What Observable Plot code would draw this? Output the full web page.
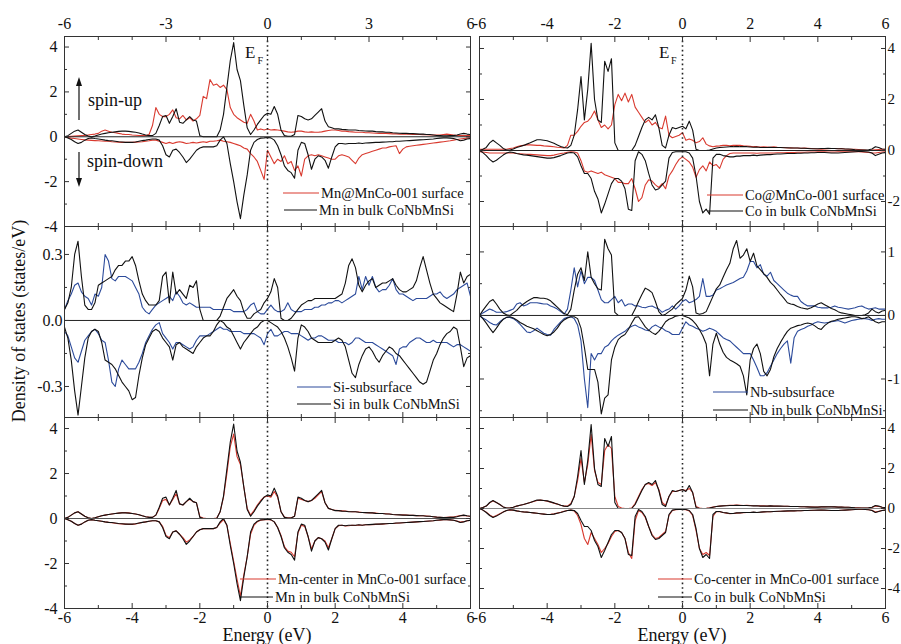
<!DOCTYPE html>
<html><head><meta charset="utf-8">
<script src="https://cdn.jsdelivr.net/npm/d3@7"></script>
<script src="https://cdn.jsdelivr.net/npm/@observablehq/plot@0.6"></script>
<style>
body{margin:0;background:#fff;}
#fig{position:relative;width:901px;height:644px;overflow:hidden;background:#fff;font-family:"Liberation Serif","Times New Roman",serif;color:#111;}
#fig svg, #fig svg text{font-family:"Liberation Serif","Times New Roman",serif !important;}
</style></head><body><div id="fig"></div>
<script>
// ---------- data (energy grid in eV, DOS in states/eV) ----------
const energy = [
-6,-5.9,-5.8,-5.7,-5.6,-5.5,-5.4,-5.3,-5.2,-5.1,
-5,-4.9,-4.8,-4.7,-4.6,-4.5,-4.4,-4.3,-4.2,-4.1,
-4,-3.9,-3.8,-3.7,-3.6,-3.5,-3.4,-3.3,-3.2,-3.1,
-3,-2.9,-2.8,-2.7,-2.6,-2.5,-2.4,-2.3,-2.2,-2.1,
-2,-1.9,-1.8,-1.7,-1.6,-1.5,-1.4,-1.3,-1.2,-1.1,
-1,-0.9,-0.8,-0.7,-0.6,-0.5,-0.4,-0.3,-0.2,-0.1,
0,0.1,0.2,0.3,0.4,0.5,0.6,0.7,0.8,0.9,
1,1.1,1.2,1.3,1.4,1.5,1.6,1.7,1.8,1.9,
2,2.1,2.2,2.3,2.4,2.5,2.6,2.7,2.8,2.9,
3,3.1,3.2,3.3,3.4,3.5,3.6,3.7,3.8,3.9,
4,4.1,4.2,4.3,4.4,4.5,4.6,4.7,4.8,4.9,
5,5.1,5.2,5.3,5.4,5.5,5.6,5.7,5.8,5.9,
6];

const mnBulkUp = [
0,0.05,0.15,0.25,0.3,0.2,0.1,0.03,0,0.03,
0.08,0.12,0.15,0.18,0.2,0.22,0.24,0.25,0.25,0.24,
0.22,0.2,0.17,0.12,0.08,0.05,0.05,0.15,0.5,0.9,
0.95,0.6,0.9,1.25,0.65,0.6,0.75,0.9,0.75,0.7,
0.05,0,0,0,0,0,0.3,1.0,2.2,3.4,
4.2,3.0,2.5,1.4,0.4,0.1,0.3,0.55,0.75,0.95,
1.05,1.0,1.35,1.0,0.3,0.05,0.02,0.02,0.1,0.95,
0.9,0.8,0.75,0.8,0.95,1.1,1.25,0.7,0.45,0.4,
0.35,0.35,0.33,0.32,0.3,0.3,0.3,0.28,0.27,0.26,
0.25,0.25,0.23,0.22,0.22,0.2,0.2,0.18,0.17,0.16,
0.15,0.15,0.14,0.14,0.13,0.12,0.12,0.1,0.1,0.08,
0.06,0.05,0.04,0.04,0.05,0.05,0.08,0.12,0.15,0.12,
0.1];
const mnBulkDn = [
0,-0.05,-0.12,-0.22,-0.3,-0.25,-0.15,-0.08,-0.05,-0.08,
-0.1,-0.12,-0.15,-0.17,-0.18,-0.2,-0.22,-0.23,-0.25,-0.25,
-0.25,-0.23,-0.2,-0.17,-0.15,-0.12,-0.1,-0.1,-0.15,-0.4,
-0.8,-0.9,-0.6,-0.55,-0.7,-0.9,-1.15,-1.0,-0.8,-0.6,
-0.5,-0.45,-0.45,-0.45,-0.45,-0.4,-0.15,0,-0.3,-1.2,
-2.0,-2.9,-3.65,-2.6,-1.7,-0.6,-0.25,-0.12,-0.06,-0.05,
-0.03,-0.05,-0.15,-0.4,-0.8,-1.3,-1.5,-1.6,-1.85,-0.6,
-0.25,-0.3,-0.8,-1.45,-1.0,-0.85,-0.9,-1.05,-1.4,-0.9,
-0.45,-0.3,-0.3,-0.32,-0.3,-0.3,-0.3,-0.28,-0.3,-0.28,
-0.27,-0.26,-0.25,-0.25,-0.24,-0.23,-0.22,-0.22,-0.2,-0.2,
-0.19,-0.18,-0.17,-0.16,-0.15,-0.14,-0.13,-0.12,-0.11,-0.1,
-0.08,-0.06,-0.05,-0.05,-0.06,-0.08,-0.12,-0.18,-0.15,-0.1,
-0.08];
const mnSurfUp = [
0,0.01,0.02,0.03,0.04,0.05,0.06,0.08,0.1,0.12,
0.15,0.25,0.3,0.25,0.2,0.18,0.15,0.12,0.1,0.1,
0.08,0.07,0.06,0.05,0.06,0.1,0.5,1.3,1.0,0.9,
0.9,1.0,1.2,0.85,0.8,0.95,0.75,0.85,0.7,0.8,
0.95,1.8,1.7,2.55,2.3,2.35,2.2,2.3,2.1,1.3,
1.0,0.85,0.75,0.65,0.6,1.0,0.7,0.3,0.35,0.3,
0.35,0.3,0.32,0.3,0.28,0.25,0.22,0.2,0.22,0.25,
0.25,0.22,0.2,0.22,0.2,0.2,0.22,0.25,0.28,0.3,
0.3,0.28,0.25,0.25,0.23,0.22,0.2,0.2,0.2,0.18,
0.18,0.17,0.16,0.15,0.15,0.15,0.14,0.13,0.13,0.12,
0.12,0.12,0.11,0.1,0.1,0.1,0.09,0.09,0.08,0.08,
0.08,0.08,0.1,0.12,0.1,0.08,0.06,0.05,0.05,0.05,
0.05];
const mnSurfDn = [
0,-0.03,-0.06,-0.08,-0.1,-0.12,-0.14,-0.15,-0.16,-0.17,
-0.18,-0.19,-0.2,-0.2,-0.22,-0.23,-0.24,-0.25,-0.25,-0.25,
-0.25,-0.24,-0.23,-0.22,-0.2,-0.18,-0.15,-0.15,-0.2,-0.25,
-0.3,-0.25,-0.3,-0.25,-0.22,-0.25,-0.3,-0.28,-0.25,-0.28,
-0.25,-0.22,-0.25,-0.2,-0.2,-0.18,-0.15,-0.2,-0.22,-0.25,
-0.3,-0.35,-0.4,-0.5,-0.55,-0.75,-0.9,-1.1,-1.5,-1.9,
-0.6,-0.9,-1.2,-1.0,-1.1,-0.85,-1.2,-1.1,-1.5,-1.3,
-1.75,-1.0,-0.85,-0.8,-0.85,-0.8,-0.85,-0.9,-0.95,-1.0,
-1.0,-0.85,-0.8,-0.85,-0.9,-1.05,-1.2,-0.95,-0.8,-0.75,
-0.7,-0.65,-0.6,-0.55,-0.5,-0.5,-0.45,-0.42,-0.4,-0.75,
-0.55,-0.45,-0.42,-0.4,-0.38,-0.36,-0.34,-0.32,-0.3,-0.28,
-0.26,-0.24,-0.22,-0.2,-0.18,-0.15,-0.12,-0.1,-0.08,-0.06,
-0.05];
const mnCenterUp = [
0,0.05,0.15,0.25,0.3,0.2,0.1,0.03,0,0.03,
0.08,0.12,0.15,0.18,0.2,0.22,0.24,0.26,0.26,0.25,
0.22,0.2,0.17,0.12,0.08,0.06,0.05,0.15,0.45,0.8,
0.85,0.6,0.85,1.1,0.65,0.6,0.75,0.85,0.75,0.7,
0.08,0.02,0,0,0,0.02,0.3,0.95,2.0,3.2,
3.75,2.75,2.4,1.4,0.45,0.15,0.35,0.6,0.8,0.95,
1.0,0.95,1.2,0.95,0.3,0.06,0.03,0.03,0.1,0.9,
0.85,0.8,0.75,0.8,0.9,1.05,1.2,0.7,0.45,0.4,
0.36,0.35,0.34,0.33,0.31,0.3,0.3,0.29,0.27,0.26,
0.26,0.25,0.24,0.22,0.22,0.21,0.2,0.18,0.17,0.17,
0.16,0.15,0.14,0.14,0.13,0.12,0.12,0.11,0.1,0.08,
0.06,0.05,0.04,0.05,0.06,0.07,0.1,0.13,0.14,0.11,
0.1];
const mnCenterDn = [
0,-0.05,-0.12,-0.22,-0.3,-0.25,-0.15,-0.08,-0.05,-0.08,
-0.1,-0.12,-0.15,-0.17,-0.19,-0.21,-0.23,-0.24,-0.25,-0.26,
-0.26,-0.24,-0.21,-0.18,-0.15,-0.12,-0.1,-0.1,-0.15,-0.35,
-0.75,-0.85,-0.6,-0.55,-0.7,-0.85,-1.05,-0.95,-0.8,-0.6,
-0.5,-0.45,-0.45,-0.45,-0.45,-0.4,-0.2,-0.05,-0.3,-1.1,
-1.9,-2.7,-3.45,-2.5,-1.7,-0.7,-0.3,-0.14,-0.08,-0.05,
-0.04,-0.06,-0.15,-0.4,-0.75,-1.25,-1.45,-1.5,-1.7,-0.65,
-0.3,-0.35,-0.8,-1.35,-1.0,-0.85,-0.9,-1.0,-1.3,-0.9,
-0.45,-0.32,-0.3,-0.33,-0.32,-0.3,-0.31,-0.29,-0.3,-0.28,
-0.28,-0.27,-0.26,-0.25,-0.25,-0.23,-0.22,-0.22,-0.21,-0.2,
-0.19,-0.18,-0.17,-0.16,-0.15,-0.14,-0.13,-0.12,-0.11,-0.1,
-0.08,-0.07,-0.05,-0.05,-0.06,-0.08,-0.11,-0.16,-0.14,-0.1,
-0.08];
const siBulkUp = [
0.05,0.08,0.15,0.3,0.36,0.2,0.07,0.05,0.05,0.08,
0.16,0.17,0.18,0.19,0.2,0.23,0.25,0.25,0.27,0.27,
0.29,0.25,0.18,0.12,0.09,0.07,0.07,0.07,0.09,0.2,
0.22,0.08,0.22,0.12,0.14,0.12,0.1,0.16,0.15,0.18,
0.05,0,0,0,0,0,0.02,0.06,0.1,0.12,
0.14,0.11,0.09,0.04,0.01,0.01,0.03,0.04,0.05,0.08,
0.1,0.13,0.19,0.15,0.01,0,0,0.01,0.03,0.05,
0.07,0.08,0.09,0.09,0.1,0.1,0.1,0.1,0.1,0.1,
0.1,0.11,0.12,0.17,0.25,0.28,0.24,0.16,0.13,0.16,
0.18,0.19,0.15,0.16,0.17,0.17,0.18,0.19,0.16,0.14,
0.13,0.13,0.14,0.15,0.18,0.24,0.29,0.23,0.17,0.12,
0.1,0.08,0.07,0.06,0.05,0.04,0.12,0.22,0.17,0.2,
0.21];
const siSubUp = [
0.05,0.09,0.12,0.16,0.17,0.13,0.11,0.1,0.07,0.12,
0.11,0.15,0.3,0.27,0.19,0.18,0.2,0.2,0.2,0.19,
0.18,0.15,0.12,0.06,0.04,0.03,0.05,0.07,0.08,0.09,
0.1,0.11,0.09,0.13,0.11,0.08,0.07,0.08,0.07,0.06,
0.06,0.06,0.06,0.06,0.05,0.05,0.05,0.05,0.05,0.05,
0.04,0.04,0.04,0.04,0.05,0.07,0.08,0.04,0.03,0.03,
0.05,0.07,0.05,0.04,0.04,0.05,0.08,0.05,0.04,0.04,
0.04,0.05,0.05,0.05,0.06,0.06,0.07,0.07,0.08,0.08,
0.09,0.09,0.08,0.09,0.1,0.11,0.12,0.2,0.14,0.2,
0.16,0.2,0.15,0.13,0.14,0.14,0.16,0.19,0.14,0.12,
0.12,0.11,0.1,0.09,0.1,0.1,0.1,0.1,0.11,0.12,
0.12,0.13,0.11,0.1,0.11,0.12,0.14,0.15,0.16,0.17,
0.11];
const siBulkDn = [
-0.03,-0.08,-0.18,-0.32,-0.43,-0.3,-0.17,-0.08,-0.05,-0.04,
-0.05,-0.1,-0.18,-0.19,-0.2,-0.22,-0.25,-0.28,-0.3,-0.32,
-0.36,-0.35,-0.25,-0.17,-0.11,-0.08,-0.05,-0.04,-0.05,-0.08,
-0.1,-0.12,-0.18,-0.11,-0.1,-0.12,-0.13,-0.14,-0.15,-0.12,
-0.1,-0.08,-0.07,-0.07,-0.05,-0.02,0,-0.01,-0.03,-0.04,
-0.07,-0.1,-0.13,-0.1,-0.08,-0.06,-0.04,-0.03,-0.01,0,
0,-0.01,-0.02,-0.03,-0.05,-0.08,-0.12,-0.17,-0.23,-0.08,
-0.02,-0.03,-0.05,-0.08,-0.09,-0.1,-0.1,-0.1,-0.1,-0.1,
-0.09,-0.08,-0.09,-0.12,-0.18,-0.24,-0.26,-0.2,-0.16,-0.13,
-0.12,-0.14,-0.17,-0.19,-0.16,-0.14,-0.12,-0.13,-0.15,-0.16,
-0.18,-0.2,-0.22,-0.24,-0.26,-0.28,-0.29,-0.28,-0.23,-0.18,
-0.15,-0.11,-0.08,-0.06,-0.05,-0.03,-0.04,-0.12,-0.21,-0.17,
-0.16];
const siSubDn = [
-0.05,-0.07,-0.12,-0.17,-0.19,-0.14,-0.09,-0.07,-0.05,-0.04,
-0.06,-0.09,-0.1,-0.18,-0.28,-0.3,-0.22,-0.18,-0.2,-0.22,
-0.22,-0.22,-0.19,-0.15,-0.1,-0.07,-0.04,-0.02,-0.01,-0.06,
-0.08,-0.1,-0.13,-0.1,-0.1,-0.11,-0.12,-0.13,-0.12,-0.09,
-0.07,-0.07,-0.07,-0.06,-0.05,-0.04,-0.03,-0.04,-0.04,-0.05,
-0.05,-0.05,-0.05,-0.06,-0.06,-0.06,-0.06,-0.07,-0.08,-0.11,
-0.06,-0.04,-0.07,-0.07,-0.06,-0.05,-0.05,-0.06,-0.06,-0.06,
-0.07,-0.08,-0.09,-0.08,-0.08,-0.07,-0.07,-0.08,-0.09,-0.09,
-0.09,-0.1,-0.1,-0.1,-0.11,-0.1,-0.08,-0.08,-0.09,-0.1,
-0.1,-0.1,-0.11,-0.12,-0.13,-0.14,-0.15,-0.16,-0.2,-0.13,
-0.12,-0.12,-0.1,-0.09,-0.08,-0.08,-0.09,-0.1,-0.1,-0.09,
-0.1,-0.1,-0.1,-0.1,-0.11,-0.12,-0.11,-0.11,-0.12,-0.13,
-0.14];
const coBulkUp = [
0,0.05,0.12,0.3,0.4,0.3,0.2,0.08,0.02,0.02,
0.06,0.12,0.16,0.2,0.25,0.3,0.36,0.42,0.42,0.4,
0.38,0.33,0.28,0.22,0.16,0.12,0.1,0.2,0.6,1.6,
2.9,1.2,2.4,4.2,2.0,1.2,1.1,3.5,3.1,3.6,
0.3,0,0,0,0,0,0.2,0.55,0.9,1.2,
1.3,1.2,1.4,0.9,0.2,0.1,0.6,0.9,0.85,0.9,
0.95,0.85,1.15,0.8,0.05,0,0,0,0.02,0.06,
0.1,0.12,0.13,0.14,0.15,0.15,0.16,0.15,0.15,0.15,
0.14,0.13,0.14,0.12,0.12,0.12,0.13,0.12,0.12,0.12,
0.11,0.11,0.1,0.1,0.1,0.09,0.09,0.08,0.07,0.07,
0.07,0.08,0.08,0.09,0.08,0.08,0.07,0.07,0.06,0.06,
0.05,0.03,0.02,0.02,0.02,0.03,0.06,0.15,0.12,0.06,
0.05];
const coBulkDn = [
0,-0.08,-0.2,-0.35,-0.45,-0.38,-0.28,-0.18,-0.1,-0.06,
-0.08,-0.12,-0.15,-0.17,-0.18,-0.2,-0.22,-0.24,-0.26,-0.28,
-0.3,-0.3,-0.28,-0.24,-0.2,-0.15,-0.1,-0.08,-0.1,-0.25,
-0.6,-0.9,-0.9,-1.1,-1.6,-1.9,-2.45,-2.1,-1.7,-1.3,
-1.1,-1.1,-1.2,-1.5,-2.3,-2.35,-0.4,-0.05,-0.15,-0.4,
-0.9,-1.35,-1.55,-1.5,-1.35,-1.2,-0.3,-0.08,-0.05,-0.05,
-0.05,-0.05,-0.1,-0.3,-1.0,-2.0,-2.45,-2.3,-2.5,-0.3,
-0.15,-0.15,-0.2,-0.22,-0.25,-0.25,-0.22,-0.22,-0.2,-0.2,
-0.2,-0.18,-0.2,-0.18,-0.17,-0.16,-0.16,-0.15,-0.14,-0.14,
-0.13,-0.12,-0.12,-0.12,-0.11,-0.11,-0.1,-0.1,-0.09,-0.09,
-0.08,-0.08,-0.08,-0.09,-0.1,-0.1,-0.1,-0.09,-0.08,-0.07,
-0.06,-0.05,-0.04,-0.04,-0.05,-0.06,-0.1,-0.2,-0.15,-0.1,
-0.08];
const coSurfUp = [
0.05,0.05,0.05,0.05,0.05,0.05,0.05,0.05,0.05,0.08,
0.1,0.15,0.18,0.2,0.22,0.22,0.21,0.2,0.2,0.18,
0.17,0.16,0.15,0.13,0.12,0.1,0.2,0.6,0.6,0.75,
0.95,1.1,1.15,1.3,1.55,1.2,0.9,1.0,0.85,1.0,
1.8,2.2,1.95,2.25,1.9,2.2,1.7,1.5,1.3,1.1,
1.2,1.0,1.1,0.9,0.85,1.35,0.6,0.5,0.55,0.6,
0.7,0.4,0.45,0.4,0.3,0.35,0.5,0.25,0.18,0.15,
0.17,0.18,0.2,0.2,0.18,0.2,0.2,0.2,0.18,0.17,
0.16,0.15,0.15,0.14,0.15,0.14,0.13,0.15,0.13,0.12,
0.12,0.1,0.11,0.1,0.1,0.09,0.1,0.09,0.08,0.07,
0.06,0.05,0.06,0.07,0.08,0.08,0.07,0.08,0.06,0.05,
0.05,0.05,0.04,0.03,0.02,0,0.02,0.03,0.04,0.05,
0.05];
const coSurfDn = [
-0.05,-0.06,-0.08,-0.1,-0.1,-0.1,-0.1,-0.1,-0.1,-0.1,
-0.1,-0.12,-0.13,-0.14,-0.15,-0.15,-0.16,-0.17,-0.18,-0.19,
-0.2,-0.2,-0.18,-0.15,-0.12,-0.1,-0.07,-0.05,-0.06,-0.1,
-0.4,-0.8,-0.85,-0.8,-0.85,-0.9,-0.85,-0.95,-1.0,-1.05,
-1.1,-1.25,-1.25,-1.3,-1.3,-1.1,-1.5,-2.0,-1.85,-1.35,
-1.15,-1.2,-1.35,-1.45,-1.3,-1.5,-1.0,-0.8,-0.55,-0.35,
-0.25,-0.35,-0.45,-0.65,-1.05,-0.75,-0.6,-0.8,-0.45,-0.6,
-0.55,-0.7,-0.35,-0.2,-0.12,-0.1,-0.1,-0.1,-0.1,-0.1,
-0.1,-0.1,-0.11,-0.1,-0.1,-0.1,-0.1,-0.1,-0.09,-0.09,
-0.09,-0.08,-0.08,-0.08,-0.07,-0.07,-0.07,-0.06,-0.06,-0.06,
-0.05,-0.05,-0.05,-0.06,-0.06,-0.06,-0.05,-0.05,-0.05,-0.05,
-0.05,-0.05,-0.05,-0.06,-0.07,-0.08,-0.1,-0.1,-0.08,-0.06,
-0.05];
const coCenterUp = [
0,0.05,0.12,0.28,0.38,0.3,0.2,0.08,0.02,0.03,
0.06,0.12,0.16,0.2,0.25,0.3,0.35,0.4,0.42,0.4,
0.37,0.32,0.27,0.22,0.16,0.12,0.12,0.25,0.6,1.4,
2.5,1.3,2.2,3.7,1.9,1.3,1.2,2.9,3.2,3.0,
0.6,0.1,0.02,0,0,0.02,0.25,0.6,0.95,1.2,
1.25,1.15,1.3,0.95,0.3,0.15,0.6,0.85,0.85,0.9,
0.95,0.9,1.0,0.8,0.1,0.02,0,0.01,0.03,0.07,
0.1,0.12,0.14,0.15,0.16,0.16,0.17,0.16,0.15,0.16,
0.15,0.14,0.14,0.13,0.13,0.12,0.13,0.12,0.12,0.11,
0.11,0.11,0.1,0.1,0.1,0.09,0.09,0.08,0.08,0.07,
0.07,0.08,0.08,0.09,0.09,0.08,0.07,0.07,0.06,0.06,
0.05,0.04,0.03,0.02,0.02,0.03,0.05,0.12,0.1,0.06,
0.05];
const coCenterDn = [
0,-0.08,-0.18,-0.32,-0.42,-0.35,-0.26,-0.17,-0.1,-0.07,
-0.08,-0.12,-0.15,-0.17,-0.18,-0.2,-0.22,-0.24,-0.26,-0.28,
-0.3,-0.29,-0.27,-0.23,-0.19,-0.14,-0.1,-0.08,-0.12,-0.35,
-0.8,-1.5,-1.8,-1.2,-1.5,-1.8,-2.2,-2.0,-1.75,-1.4,
-1.15,-1.1,-1.2,-1.5,-2.2,-2.5,-0.6,-0.1,-0.2,-0.45,
-0.9,-1.3,-1.5,-1.45,-1.3,-1.15,-0.35,-0.1,-0.06,-0.05,
-0.05,-0.06,-0.12,-0.35,-1.1,-2.0,-2.3,-2.2,-2.35,-0.4,
-0.15,-0.16,-0.2,-0.23,-0.26,-0.25,-0.23,-0.22,-0.21,-0.2,
-0.2,-0.19,-0.2,-0.19,-0.17,-0.16,-0.16,-0.15,-0.15,-0.14,
-0.13,-0.13,-0.12,-0.12,-0.11,-0.11,-0.1,-0.1,-0.1,-0.09,
-0.09,-0.08,-0.09,-0.1,-0.1,-0.1,-0.1,-0.09,-0.08,-0.07,
-0.06,-0.05,-0.05,-0.04,-0.05,-0.06,-0.09,-0.18,-0.14,-0.1,
-0.08];
const nbBulkUp = [
0,0.08,0.15,0.22,0.25,0.18,0.1,0.04,0.01,0,
0.04,0.08,0.14,0.18,0.22,0.25,0.28,0.28,0.27,0.27,
0.26,0.23,0.18,0.13,0.08,0.03,0.01,0.1,0.4,0.65,
0.75,0.55,1.0,0.6,0.5,0.42,0.4,1.2,1.05,0.95,
0.05,0,0,0,0,0,0.1,0.22,0.33,0.43,
0.4,0.36,0.22,0.06,0,0.02,0.06,0.1,0.17,0.22,
0.27,0.4,0.62,0.45,0.04,0.02,0.03,0.06,0.18,0.3,
0.42,0.48,0.6,0.72,0.82,1.05,1.18,0.9,0.95,1.05,
0.85,0.98,0.78,0.72,0.66,0.6,0.52,0.47,0.4,0.33,
0.27,0.2,0.18,0.17,0.14,0.12,0.11,0.1,0.12,0.15,
0.18,0.2,0.17,0.14,0.11,0.09,0.06,0.04,0.03,0.02,
0.01,0,0,0,0.01,0.04,0.1,0.06,0.04,0.07,
0.08];
const nbSubUp = [
0,0.04,0.07,0.1,0.08,0.05,0.05,0.05,0.06,0.08,
0.1,0.18,0.2,0.15,0.17,0.2,0.2,0.2,0.19,0.18,
0.18,0.15,0.13,0.1,0.06,0.02,0.1,0.4,0.75,0.45,
0.7,0.5,0.6,0.6,0.55,0.4,0.25,0.2,0.2,0.25,
0.3,0.2,0.25,0.15,0.18,0.18,0.15,0.15,0.13,0.12,
0.14,0.15,0.12,0.1,0.05,0.08,0.1,0.15,0.1,0.15,
0.22,0.25,0.2,0.22,0.25,0.3,0.58,0.3,0.3,0.32,
0.4,0.42,0.45,0.48,0.5,0.52,0.55,0.58,0.6,0.7,
0.85,0.85,0.75,0.8,0.65,0.62,0.68,0.55,0.5,0.45,
0.4,0.35,0.32,0.3,0.3,0.22,0.18,0.15,0.15,0.15,
0.13,0.12,0.12,0.12,0.13,0.15,0.13,0.12,0.11,0.1,
0.11,0.12,0.14,0.15,0.12,0.1,0.11,0.12,0.1,0.1,
0.1];
const nbBulkDn = [
0,-0.05,-0.12,-0.2,-0.27,-0.2,-0.12,-0.06,-0.03,-0.02,
-0.04,-0.07,-0.11,-0.14,-0.17,-0.19,-0.21,-0.24,-0.27,-0.3,
-0.32,-0.3,-0.26,-0.2,-0.12,-0.07,-0.04,-0.02,-0.02,-0.05,
-0.2,-0.5,-0.85,-0.85,-0.85,-1.05,-1.55,-1.3,-1.25,-0.7,
-0.5,-0.38,-0.33,-0.3,-0.22,-0.12,-0.03,-0.02,-0.1,-0.18,
-0.23,-0.27,-0.3,-0.25,-0.18,-0.1,-0.06,-0.04,-0.01,0,
0,-0.02,-0.04,-0.08,-0.14,-0.22,-0.32,-0.45,-0.95,-0.45,
-0.28,-0.45,-0.58,-0.66,-0.7,-0.73,-0.76,-0.8,-0.95,-1.25,
-0.7,-0.52,-0.45,-0.6,-0.88,-0.95,-0.85,-0.65,-0.52,-0.42,
-0.33,-0.25,-0.2,-0.18,-0.16,-0.15,-0.13,-0.12,-0.13,-0.16,
-0.2,-0.22,-0.16,-0.12,-0.09,-0.08,-0.06,-0.05,-0.04,-0.03,
-0.02,-0.02,-0.03,-0.05,-0.04,-0.02,-0.06,-0.1,-0.12,-0.1,
-0.1];
const nbSubDn = [
0,-0.04,-0.07,-0.11,-0.14,-0.15,-0.1,-0.06,-0.03,-0.03,
-0.05,-0.09,-0.14,-0.2,-0.26,-0.27,-0.24,-0.2,-0.24,-0.28,
-0.3,-0.31,-0.22,-0.16,-0.1,-0.05,-0.03,-0.02,-0.05,-0.15,
-0.4,-1.0,-1.45,-0.6,-0.7,-0.6,-0.6,-0.5,-0.47,-0.4,
-0.35,-0.31,-0.28,-0.25,-0.2,-0.17,-0.15,-0.18,-0.2,-0.23,
-0.24,-0.18,-0.15,-0.18,-0.2,-0.24,-0.26,-0.3,-0.3,-0.3,
-0.2,-0.1,-0.15,-0.17,-0.2,-0.22,-0.25,-0.23,-0.2,-0.22,
-0.25,-0.3,-0.35,-0.38,-0.4,-0.45,-0.5,-0.55,-0.6,-0.6,
-0.6,-0.7,-0.82,-0.95,-0.95,-0.9,-0.8,-0.7,-0.6,-0.52,
-0.45,-0.4,-0.75,-0.35,-0.25,-0.22,-0.2,-0.17,-0.15,-0.12,
-0.1,-0.11,-0.12,-0.11,-0.1,-0.09,-0.08,-0.1,-0.12,-0.1,
-0.08,-0.07,-0.06,-0.05,-0.05,-0.06,-0.08,-0.06,-0.05,-0.06,
-0.06];

// tick values
const xLabelsLeftTop = [-6,-3,0,3,6];
const xLabelsEven = [-6,-4,-2,0,2,4,6];
const xAllTicks = [-6,-5,-4,-3,-2,-1,0,1,2,3,4,5,6];

// ---------- drawing ----------
const RED = "#d93a2f", BLACK = "#111111", BLUE = "#2c4b9b";
const FONT = '"Liberation Serif","Times New Roman",serif';
const fig = document.getElementById("fig");
const M = 40;

function panel(p) {
  const w = p.x1 - p.x0, h = p.y1 - p.y0;
  const marks = [];
  for (const c of p.curves) {
    marks.push(Plot.line(energy.map((e, i) => ({e, v: c.v[i]})),
      {x: "e", y: "v", stroke: c.color, strokeWidth: 1.1, clip: true}));
  }
  marks.push(Plot.ruleY([0], {stroke: p.zero || "#222", strokeWidth: 1}));
  marks.push(Plot.ruleX([0], {stroke: "#222", strokeWidth: 1.6, strokeDasharray: "1.6,3"}));
  marks.push(Plot.frame({stroke: "#333", strokeWidth: 1}));
  const xMajor = p.xMajor, xMinor = xAllTicks.filter(t => !xMajor.includes(t));
  const yMinor = p.yMinor;
  const none = () => "";
  for (const anchor of ["top", "bottom"]) {
    marks.push(Plot.axisX({anchor, ticks: xMajor, tickSize: -5, tickFormat: none, label: null, stroke: "#333"}));
    marks.push(Plot.axisX({anchor, ticks: xMinor, tickSize: -3, tickFormat: none, label: null, stroke: "#333"}));
  }
  for (const anchor of ["left", "right"]) {
    marks.push(Plot.axisY({anchor, ticks: p.yMajor, tickSize: -5, tickFormat: none, label: null, stroke: "#333"}));
    marks.push(Plot.axisY({anchor, ticks: yMinor, tickSize: -3, tickFormat: none, label: null, stroke: "#333"}));
  }
  marks.push(Plot.axisY({anchor: p.ySide, ticks: p.yMajor, tickSize: 0, tickPadding: p.yPad,
    tickFormat: p.yFmt || (d => String(d)), label: null, fontSize: p.yFont || 16, fontFamily: FONT}));
  if (p.xTop) marks.push(Plot.axisX({anchor: "top", ticks: p.xTop, tickSize: 0, tickPadding: 8,
    tickFormat: d => String(d), label: null, fontSize: 16, fontFamily: FONT}));
  if (p.xBottom) marks.push(Plot.axisX({anchor: "bottom", ticks: p.xBottom, tickSize: 0, tickPadding: 3,
    tickFormat: d => String(d), label: null, fontSize: 16, fontFamily: FONT}));
  const svg = Plot.plot({
    width: w + 2 * M, height: h + 2 * M,
    marginLeft: M, marginRight: M, marginTop: M, marginBottom: M,
    x: {domain: [-6, 6], label: null},
    y: {domain: p.yDomain, label: null},
    style: {background: "transparent", overflow: "visible", fontFamily: FONT, fontSize: "16px", color: "#111"},
    marks
  });
  svg.style.position = "absolute";
  svg.style.left = (p.x0 - M) + "px";
  svg.style.top = (p.y0 - M) + "px";
  fig.appendChild(svg);
}

const LX = [64, 470], RX = [479, 885];
const ROW = [[36, 226], [226, 417], [417, 608]];

panel({x0: LX[0], x1: LX[1], y0: ROW[0][0], y1: ROW[0][1], yDomain: [-4, 4.47],
  yMajor: [-4, -2, 0, 2, 4], yMinor: [-3, -1, 1, 3], ySide: "left", yPad: 7,
  xMajor: xLabelsLeftTop, xTop: xLabelsLeftTop,
  curves: [{v: mnSurfUp, color: RED}, {v: mnSurfDn, color: RED}, {v: mnBulkUp, color: BLACK}, {v: mnBulkDn, color: BLACK}]});
panel({x0: LX[0], x1: LX[1], y0: ROW[1][0], y1: ROW[1][1], yDomain: [-0.441, 0.427],
  yMajor: [-0.3, 0, 0.3], yMinor: [-0.15, 0.15], ySide: "left", yPad: 2, yFmt: d => d.toFixed(1),
  xMajor: xLabelsEven,
  curves: [{v: siSubUp, color: BLUE}, {v: siSubDn, color: BLUE}, {v: siBulkUp, color: BLACK}, {v: siBulkDn, color: BLACK}]});
panel({x0: LX[0], x1: LX[1], y0: ROW[2][0], y1: ROW[2][1], yDomain: [-4, 4.49],
  yMajor: [-4, -2, 0, 2, 4], yMinor: [-3, -1, 1, 3], ySide: "left", yPad: 7,
  xMajor: xLabelsEven, xBottom: xLabelsEven, zero: "#555",
  curves: [{v: mnCenterUp, color: RED}, {v: mnCenterDn, color: RED}, {v: mnBulkUp, color: BLACK}, {v: mnBulkDn, color: BLACK}]});
panel({x0: RX[0], x1: RX[1], y0: ROW[0][0], y1: ROW[0][1], yDomain: [-2.98, 4.47],
  yMajor: [-2, 0, 2, 4], yMinor: [-1, 1, 3], ySide: "right", yPad: 2, yFont: 15,
  xMajor: xLabelsEven, xTop: xLabelsEven,
  curves: [{v: coSurfUp, color: RED}, {v: coSurfDn, color: RED}, {v: coBulkUp, color: BLACK}, {v: coBulkDn, color: BLACK}]});
panel({x0: RX[0], x1: RX[1], y0: ROW[1][0], y1: ROW[1][1], yDomain: [-1.606, 1.4],
  yMajor: [-1, 0, 1], yMinor: [-1.5, -0.5, 0.5], ySide: "right", yPad: 2, yFont: 15,
  xMajor: xLabelsEven,
  curves: [{v: nbSubUp, color: BLUE}, {v: nbSubDn, color: BLUE}, {v: nbBulkUp, color: BLACK}, {v: nbBulkDn, color: BLACK}]});
panel({x0: RX[0], x1: RX[1], y0: ROW[2][0], y1: ROW[2][1], yDomain: [-5.0, 4.55],
  yMajor: [-4, -2, 0, 2, 4], yMinor: [-3, -1, 1, 3], ySide: "right", yPad: 2, yFont: 15,
  xMajor: xLabelsEven, xBottom: xLabelsEven, zero: "#888",
  curves: [{v: coCenterUp, color: RED}, {v: coCenterDn, color: RED}, {v: coBulkUp, color: BLACK}, {v: coBulkDn, color: BLACK}]});

// ---------- annotations (titles, legends, labels) ----------
const legends = [
  {x: 283, y: 193, color: RED, text: "Mn@MnCo-001 surface", tx: 321},
  {x: 284, y: 210, color: BLACK, text: "Mn in bulk CoNbMnSi", tx: 319},
  {x: 707, y: 195, color: RED, text: "Co@MnCo-001 surface", tx: 745},
  {x: 708, y: 211, color: BLACK, text: "Co in bulk CoNbMnSi", tx: 745},
  {x: 297, y: 387, color: BLUE, text: "Si-subsurface", tx: 333},
  {x: 297, y: 404, color: BLACK, text: "Si in bulk CoNbMnSi", tx: 333},
  {x: 713, y: 392, color: BLUE, text: "Nb-subsurface", tx: 750},
  {x: 713, y: 410, color: BLACK, text: "Nb in bulk CoNbMnSi", tx: 750},
  {x: 240, y: 579, color: RED, text: "Mn-center in MnCo-001 surface", tx: 278},
  {x: 240, y: 597, color: BLACK, text: "Mn in bulk CoNbMnSi", tx: 275},
  {x: 658, y: 579, color: RED, text: "Co-center in MnCo-001 surface", tx: 694},
  {x: 658, y: 597, color: BLACK, text: "Co in bulk CoNbMnSi", tx: 694}
];
let ov = `<svg width="901" height="644" style="position:absolute;left:0;top:0;overflow:hidden" font-family='${FONT}' fill="#111">`;
for (const l of legends) {
  ov += `<line x1="${l.x}" x2="${l.tx - 2}" y1="${l.y}" y2="${l.y}" stroke="${l.color}" stroke-width="1.2"/>`;
  ov += `<text x="${l.tx}" y="${l.y + 5}" font-size="14.5">${l.text}</text>`;
}
// E_F labels
ov += `<text x="245" y="58" font-size="17">E</text><text x="257.5" y="64" font-size="10">F</text>`;
ov += `<text x="659" y="58" font-size="17">E</text><text x="671" y="64" font-size="10">F</text>`;
// spin labels and arrows
ov += `<text x="88" y="106" font-size="18">spin-up</text><text x="87" y="167" font-size="18">spin-down</text>`;
ov += `<line x1="79" x2="79" y1="84" y2="120" stroke="#111" stroke-width="1.2"/><path d="M79,77 L76,86 L82,86 Z" fill="#111"/>`;
ov += `<line x1="79" x2="79" y1="152" y2="180" stroke="#111" stroke-width="1.2"/><path d="M79,187 L76,178 L82,178 Z" fill="#111"/>`;
// axis titles
ov += `<text x="267" y="641" font-size="18" text-anchor="middle">Energy (eV)</text>`;
ov += `<text x="682" y="641" font-size="18" text-anchor="middle">Energy (eV)</text>`;
ov += `<text transform="translate(25,321) rotate(-90)" font-size="18" text-anchor="middle">Density of states (states/eV)</text>`;
ov += `</svg>`;
fig.insertAdjacentHTML("beforeend", ov);
</script>
</body></html>
